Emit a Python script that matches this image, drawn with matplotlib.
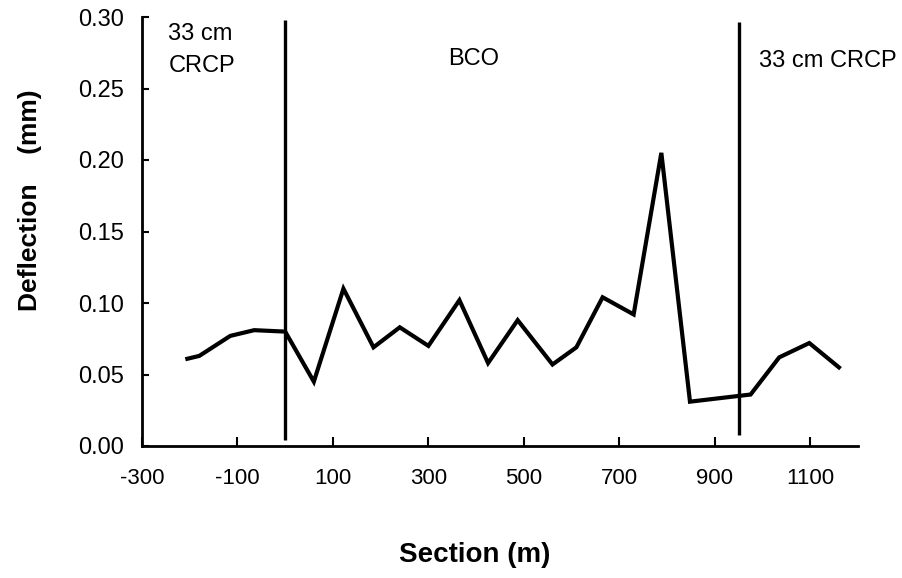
import matplotlib
matplotlib.use("Agg")
import matplotlib.pyplot as plt

plt.rcParams['font.family'] = ['Liberation Sans', 'DejaVu Sans']

# deflection survey along the section (m, mm)
section = [-205, -180, -115, -65, 0, 60, 122, 185, 240, 300, 365, 425, 487,
           560, 610, 665, 730, 788, 848, 975, 1035, 1098, 1160]
deflection = [0.061, 0.063, 0.077, 0.081, 0.080, 0.045, 0.110, 0.069, 0.083,
              0.070, 0.102, 0.058, 0.088, 0.057, 0.069, 0.104, 0.092, 0.205,
              0.031, 0.036, 0.062, 0.072, 0.055]

# pavement type boundaries
boundaries = [0, 950]
xticks = list(range(-300, 1101, 200))
yticks = [0.00, 0.05, 0.10, 0.15, 0.20, 0.25, 0.30]

W, H = 903, 578
fig = plt.figure(figsize=(W / 100, H / 100), dpi=100)
ax = fig.add_axes([142 / W, 1 - 446 / H, (858 - 142) / W, (446 - 17) / H])

ax.plot(section, deflection, color='black', lw=3, solid_joinstyle='miter')
ax.vlines(boundaries[0], 0.004, 0.298, color='black', lw=2.4)
ax.vlines(boundaries[1], 0.008, 0.2965, color='black', lw=2.4)

ax.set_xlim(-300, 1200)
ax.set_ylim(0, 0.30)
ax.set_xticks(xticks)
ax.set_xticklabels([str(v) for v in xticks])
ax.set_yticks(yticks)
ax.set_yticklabels(['%.2f' % v for v in yticks])

for s in ['top', 'right']:
    ax.spines[s].set_visible(False)
for s in ['left', 'bottom']:
    ax.spines[s].set_linewidth(2)

ax.tick_params(axis='x', direction='in', length=6.5, width=1.5, pad=16,
               labelsize=16)
ax.tick_params(axis='y', direction='in', length=5, width=1.5, pad=13,
               labelsize=17)

# section labels
ax.text(-245, 0.2839, '33 cm', fontsize=17, va='baseline')
ax.text(-245, 0.2615, 'CRCP', fontsize=17, va='baseline')
ax.text(341, 0.2664, 'BCO', fontsize=17, va='baseline')
ax.text(993, 0.265, '33 cm CRCP', fontsize=17, va='baseline')

fig.text(475 / W, 1 - 555 / H, 'Section (m)', fontsize=20, fontweight='bold',
         ha='center', va='center')
fig.text(30 / W, 1 - 200 / H, 'Deflection    (mm)', fontsize=19,
         fontweight='bold', rotation=90, ha='center', va='center')

fig.savefig('out.png', dpi=100)
